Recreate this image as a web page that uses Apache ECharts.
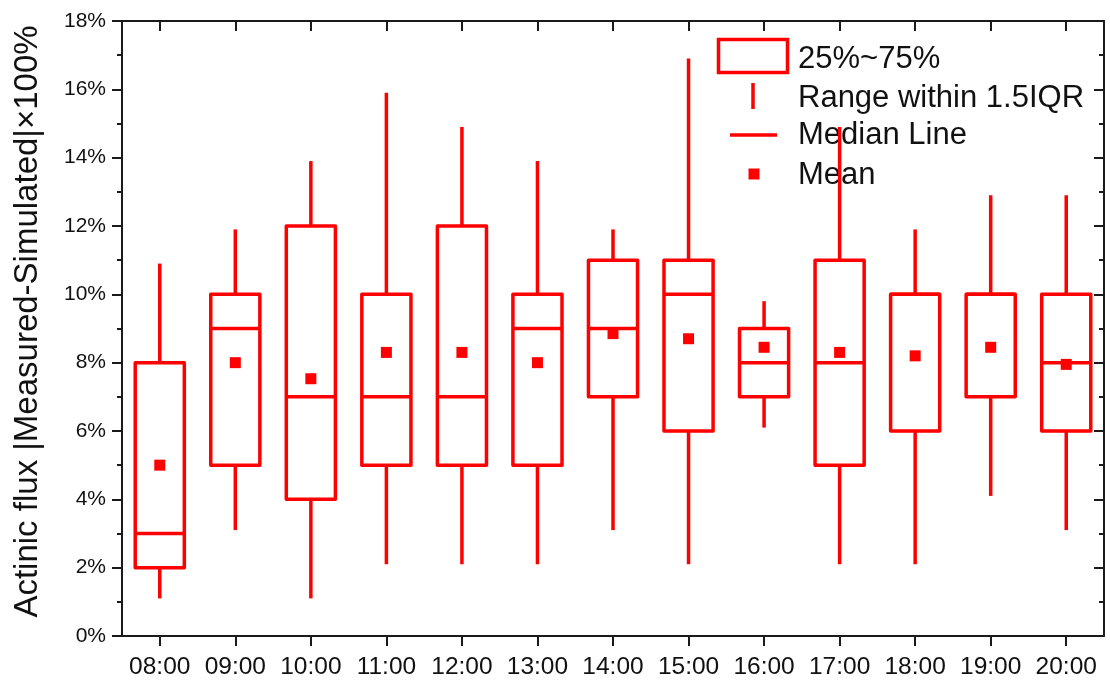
<!DOCTYPE html>
<html>
<head>
<meta charset="utf-8">
<script src="https://cdn.jsdelivr.net/npm/echarts@6/dist/echarts.min.js"></script>
<style>html,body{margin:0;padding:0;background:#fff;}#chart{width:1110px;height:682px;}</style>
</head>
<body>
<div id="chart"></div>
<script>
const categories = ['08:00','09:00','10:00','11:00','12:00','13:00','14:00','15:00','16:00','17:00','18:00','19:00','20:00'];
const whiskerLow  = [1.1, 3.1, 1.1, 2.1, 2.1, 2.1, 3.1, 2.1, 6.1, 2.1, 2.1, 4.1, 3.1];
const q1          = [2, 5, 4, 5, 5, 5, 7, 6, 7, 5, 6, 7, 6];
const median      = [3, 9, 7, 7, 7, 9, 9, 10, 8, 8, 10, 10, 8];
const q3          = [8, 10, 12, 10, 12, 10, 11, 11, 9, 11, 10, 10, 10];
const whiskerHigh = [10.9, 11.9, 13.9, 15.9, 14.9, 13.9, 11.9, 16.9, 9.8, 14.9, 11.9, 12.9, 12.9];
const mean        = [5.0, 8.0, 7.53, 8.3, 8.3, 8.0, 8.85, 8.7, 8.45, 8.3, 8.2, 8.45, 7.95];
const yTicks = [0, 2, 4, 6, 8, 10, 12, 14, 16, 18];

const RED = '#ff0000';
const FONT = "'Liberation Sans', Arial, sans-serif";
const boxData = categories.map((c, i) => [i, whiskerLow[i], q1[i], median[i], q3[i], whiskerHigh[i]]);
const meanData = categories.map((c, i) => [i, mean[i]]);
const LW = 3.5;

function renderBox(params, api) {
  const i = api.value(0);
  const lo = api.coord([i, api.value(1)]);
  const b1 = api.coord([i, api.value(2)]);
  const md = api.coord([i, api.value(3)]);
  const b3 = api.coord([i, api.value(4)]);
  const hi = api.coord([i, api.value(5)]);
  const w = api.size([1, 0])[0] * 0.65;
  const x = lo[0];
  const st = {stroke: RED, lineWidth: LW, fill: null};
  return {
    type: 'group',
    children: [
      {type: 'line', shape: {x1: x, y1: hi[1], x2: x, y2: b3[1]}, style: st},
      {type: 'line', shape: {x1: x, y1: b1[1], x2: x, y2: lo[1]}, style: st},
      {type: 'rect', shape: {x: x - w / 2, y: b3[1], width: w, height: b1[1] - b3[1]}, style: {stroke: RED, lineWidth: LW, fill: 'rgba(0,0,0,0)', lineJoin: 'round'}},
      {type: 'line', shape: {x1: x - w / 2, y1: md[1], x2: x + w / 2, y2: md[1]}, style: st}
    ]
  };
}

const chart = echarts.init(document.getElementById('chart'), null, {renderer: 'canvas'});
const axisLine = {show: true, onZero: false, lineStyle: {color: '#1a1a1a', width: 2}};
const tickStyle = {color: '#1a1a1a', width: 2};
chart.setOption({
  animation: false,
  backgroundColor: '#fff',
  grid: {left: 122, right: 6, top: 21, bottom: 46, containLabel: false},
  xAxis: [
    {type: 'category', data: categories, position: 'bottom', boundaryGap: true,
     axisLine: axisLine,
     axisTick: {show: true, alignWithLabel: true, interval: 0, inside: false, length: 10, lineStyle: tickStyle},
     axisLabel: {fontSize: 24.5, color: '#111', fontFamily: FONT, margin: 19, interval: 0},
     splitLine: {show: false}},
    {type: 'category', data: categories, position: 'top', boundaryGap: true,
     axisLine: axisLine,
     axisTick: {show: true, alignWithLabel: true, interval: 0, inside: true, length: 10, lineStyle: tickStyle},
     axisLabel: {show: false, interval: 0}, splitLine: {show: false}}
  ],
  yAxis: [
    {type: 'value', min: yTicks[0], max: yTicks[yTicks.length - 1], interval: 2, position: 'left',
     name: 'Actinic flux |Measured-Simulated|×100%', nameLocation: 'middle', nameRotate: 90, nameGap: 78,
     nameTextStyle: {fontSize: 33, color: '#111', fontFamily: FONT, padding: [0, 0, 0, 14]},
     axisLine: axisLine,
     axisTick: {show: true, inside: false, length: 10, lineStyle: tickStyle},
     minorTick: {show: true, splitNumber: 2, length: 5, lineStyle: tickStyle},
     axisLabel: {fontSize: 21, color: '#111', fontFamily: FONT, margin: 16, formatter: '{value}%'},
     splitLine: {show: false}, minorSplitLine: {show: false}},
    {type: 'value', min: yTicks[0], max: yTicks[yTicks.length - 1], interval: 2, position: 'right',
     axisLine: axisLine,
     axisTick: {show: true, inside: true, length: 10, lineStyle: tickStyle},
     minorTick: {show: true, splitNumber: 2, length: 5, lineStyle: tickStyle},
     axisLabel: {show: false}, splitLine: {show: false}, minorSplitLine: {show: false}}
  ],
  graphic: [
    {type: 'rect', z: 1, shape: {x: 718.5, y: 39.5, width: 69, height: 33}, style: {stroke: RED, lineWidth: LW, fill: 'rgba(0,0,0,0)'}},
    {type: 'text', z: 1, left: 798, top: 44, style: {text: '25%~75%', fontSize: 31, fill: '#111', fontFamily: FONT}},
    {type: 'line', z: 1, shape: {x1: 753, y1: 83, x2: 753, y2: 109}, style: {stroke: RED, lineWidth: LW}},
    {type: 'text', z: 1, left: 798, top: 83, style: {text: 'Range within 1.5IQR', fontSize: 31, fill: '#111', fontFamily: FONT}},
    {type: 'line', z: 1, shape: {x1: 730, y1: 135, x2: 777, y2: 135}, style: {stroke: RED, lineWidth: LW}},
    {type: 'text', z: 1, left: 798, top: 120, style: {text: 'Median Line', fontSize: 31, fill: '#111', fontFamily: FONT}},
    {type: 'rect', z: 1, shape: {x: 748.5, y: 168.5, width: 11, height: 11}, style: {fill: RED}},
    {type: 'text', z: 1, left: 798, top: 160, style: {text: 'Mean', fontSize: 31, fill: '#111', fontFamily: FONT}}
  ],
  series: [
    {type: 'custom', name: 'box', xAxisIndex: 0, yAxisIndex: 0, renderItem: renderBox, data: boxData, z: 5,
     encode: {x: 0, y: [1, 2, 3, 4, 5]}},
    {type: 'scatter', name: 'Mean', xAxisIndex: 0, yAxisIndex: 0, data: meanData, symbol: 'rect', symbolSize: 11,
     itemStyle: {color: RED, opacity: 1}, z: 6}
  ]
});
</script>
</body>
</html>
